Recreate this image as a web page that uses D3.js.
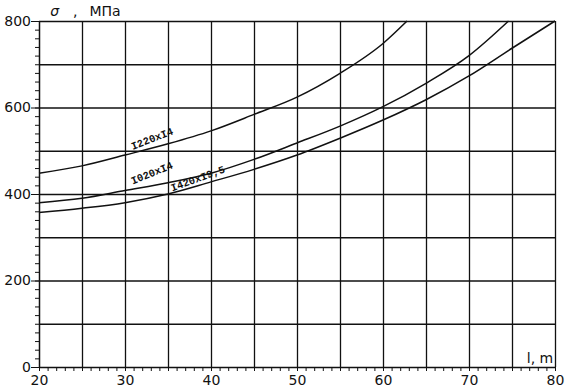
<!DOCTYPE html>
<html>
<head>
<meta charset="utf-8">
<script src="https://cdn.jsdelivr.net/npm/d3@7"></script>
<style>
  body { margin: 0; background: #fff; }
  .axis path, .axis line { stroke: #111; }
  .axis text { font-family: "DejaVu Sans", sans-serif; font-size: 14px; fill: #111; }
  .grid line { stroke: #111; stroke-width: 1.3; }
  .grid path { stroke: none; }
  .curve { fill: none; stroke: #111; stroke-width: 1.5; }
  .lbl { font-family: "Liberation Mono", "DejaVu Sans Mono", monospace; font-size: 10.5px; font-weight: bold; fill: #111; }
</style>
</head>
<body>
<div id="chart"></div>
<script>
// data (l in m, sigma in MPa)
var l1220 = [20, 25, 30, 35, 40, 45, 50, 55, 60, 62.8];
var s1220 = [448, 465, 490, 516, 546, 584, 624, 679, 748, 800];

var l1020 = [20, 25, 30, 35, 40, 45, 50, 55, 60, 65, 70, 74.6];
var s1020 = [380, 390, 408, 426, 448, 480, 518, 557, 602, 656, 720, 800];

var l1420 = [20, 25, 30, 35, 40, 45, 50, 55, 60, 65, 70, 75, 80];
var s1420 = [357, 367, 380, 400, 428, 457, 490, 529, 571, 618, 673, 737, 800];

var seriesNames = ["I220xI4", "I020xI4", "I420xI9,5"];
// where each name sits on the chart (data units) and its tilt
var labelAt = [[30.9, 502], [30.9, 422], [35.5, 406]];
var labelRot = [-21, -22, -20];

var xTicks = [20, 30, 40, 50, 60, 70, 80];
var yTicks = [0, 200, 400, 600, 800];

// set the dimensions and margins of the graph
var margin = {top: 21, right: 11, bottom: 21, left: 39},
    width = 566 - margin.left - margin.right,
    height = 388 - margin.top - margin.bottom;

var x = d3.scaleLinear().domain([20, 80]).range([0, width]);
var y = d3.scaleLinear().domain([0, 800]).range([height, 0]);

var svg = d3.select("#chart").append("svg")
    .attr("width", width + margin.left + margin.right)
    .attr("height", height + margin.top + margin.bottom)
  .append("g")
    .attr("transform", "translate(" + margin.left + "," + margin.top + ")");

// gridlines
svg.append("g")
    .attr("class", "grid")
    .call(d3.axisBottom(x)
        .tickValues(d3.range(25, 81, 5))
        .tickSize(height)
        .tickFormat(""));

svg.append("g")
    .attr("class", "grid")
    .call(d3.axisLeft(y)
        .tickValues(d3.range(100, 801, 100))
        .tickSize(-width)
        .tickFormat(""));

// minor ticks
svg.append("g")
    .attr("class", "axis")
    .attr("transform", "translate(0," + height + ")")
    .call(d3.axisBottom(x).tickValues(d3.range(20, 81, 1)).tickSize(4).tickFormat(""))
    .call(function(g) { g.select(".domain").remove(); });

svg.append("g")
    .attr("class", "axis")
    .call(d3.axisLeft(y).tickValues(d3.range(0, 801, 20)).tickSize(4).tickFormat(""))
    .call(function(g) { g.select(".domain").remove(); });

// main axes
svg.append("g")
    .attr("class", "axis")
    .attr("transform", "translate(0," + height + ")")
    .call(d3.axisBottom(x).tickValues(xTicks).tickSize(4).tickPadding(4).tickSizeOuter(0))
    .call(function(g) { g.select(".domain").attr("stroke-width", 1.5); });

svg.append("g")
    .attr("class", "axis")
    .call(d3.axisLeft(y).tickValues(yTicks).tickSize(8).tickPadding(0).tickSizeOuter(0))
    .call(function(g) { g.select(".domain").attr("stroke-width", 1.5); });

// curves
var line = d3.line()
    .x(function(d) { return x(d[0]); })
    .y(function(d) { return y(d[1]); })
    .curve(d3.curveMonotoneX);

[[l1220, s1220], [l1020, s1020], [l1420, s1420]].forEach(function(s) {
  svg.append("path")
      .datum(d3.zip(s[0], s[1]))
      .attr("class", "curve")
      .attr("d", line);
});

// curve names
seriesNames.forEach(function(name, i) {
  svg.append("text")
      .attr("class", "lbl")
      .attr("transform", "translate(" + x(labelAt[i][0]) + "," + y(labelAt[i][1]) + ") rotate(" + labelRot[i] + ")")
      .text(name);
});

// axis titles
var title = svg.append("text")
    .attr("x", x(21.3))
    .attr("y", -5)
    .style("font-family", "DejaVu Sans, sans-serif")
    .style("font-size", "14px")
    .style("fill", "#111");
title.append("tspan").style("font-style", "italic").text("σ");
title.append("tspan").attr("dx", 14).text(",");
title.append("tspan").attr("dx", 12).text("МПа");

svg.append("text")
    .attr("x", x(79.8))
    .attr("y", height - 4)
    .attr("text-anchor", "end")
    .style("font-family", "DejaVu Sans, sans-serif")
    .style("font-size", "14px")
    .style("fill", "#111")
    .text("l,  m");
</script>
</body>
</html>
